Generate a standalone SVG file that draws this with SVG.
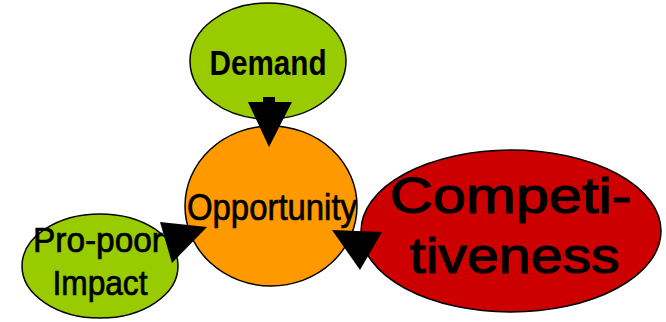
<svg xmlns="http://www.w3.org/2000/svg" width="666" height="322" viewBox="0 0 666 322">
<style>
.node{stroke:#000;stroke-width:1.5}
.t{font-family:"Liberation Sans",Arial,sans-serif;fill:#000}
.n{stroke:#000;stroke-width:0.7}
.c{stroke:#000;stroke-width:1.2}
.arrow{fill:#000;stroke:none}
</style>
<rect width="666" height="322" fill="#fff"/>
<g id="demand">
<ellipse class="node" cx="268" cy="61" rx="78" ry="58" fill="#99CC00"/>
<text class="t" x="268" y="75" font-size="35" font-weight="bold" text-anchor="middle" textLength="117" lengthAdjust="spacingAndGlyphs">Demand</text>
</g>
<g id="opportunity">
<ellipse class="node" cx="271" cy="206" rx="86" ry="80" fill="#FF9900"/>
<text class="t n" x="272" y="220" font-size="37" text-anchor="middle" textLength="170" lengthAdjust="spacingAndGlyphs">Opportunity</text>
</g>
<g id="propoor">
<ellipse class="node" cx="100" cy="266" rx="78" ry="52" fill="#99CC00"/>
<text class="t n" x="98" y="252" font-size="35" text-anchor="middle" textLength="130" lengthAdjust="spacingAndGlyphs">Pro-poor</text>
<text class="t n" x="100" y="295" font-size="35" text-anchor="middle" textLength="95" lengthAdjust="spacingAndGlyphs">Impact</text>
</g>
<g id="competitiveness">
<ellipse class="node" cx="511" cy="231" rx="150" ry="81" fill="#CC0000"/>
<text class="t c" x="511" y="213" font-size="50" text-anchor="middle" textLength="242" lengthAdjust="spacingAndGlyphs">Competi-</text>
<text class="t c" x="515" y="273" font-size="50" text-anchor="middle" textLength="210" lengthAdjust="spacingAndGlyphs">tiveness</text>
</g>
<g id="connectors">
<polygon class="arrow" points="263,97 275,97 275,102 292,102 269,147 248,102 263,102"/>
<polygon class="arrow" points="160,222 207,227 172,263"/>
<polygon class="arrow" points="332,230 382,232 360,270"/>
</g>
</svg>
